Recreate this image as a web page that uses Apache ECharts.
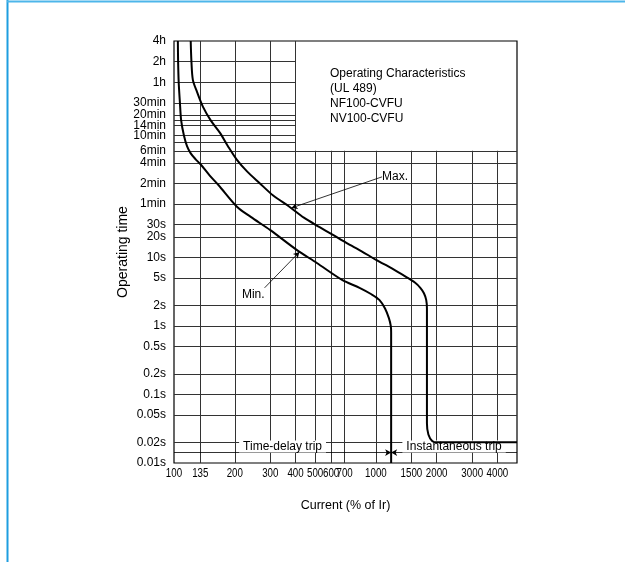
<!DOCTYPE html>
<html>
<head>
<meta charset="utf-8">
<script src="https://cdn.jsdelivr.net/npm/echarts@6/dist/echarts.min.js"></script>
<style>
html,body{margin:0;padding:0;background:#fff;}
#c{width:625px;height:562px;}
</style>
</head>
<body>
<div id="c"></div>
<script>
// ---- data ----
const xTickValues = [100,135,200,300,400,500,600,700,1000,1500,2000,3000,4000];
const xTickLabels = ['100','135','200','300','400','500','600','700','1000','1500','2000','3000','4000'];
const yTickValues = [14400,7200,3600,1800,1200,840,600,360,240,120,60,30,20,10,5,2,1,0.5,0.2,0.1,0.05,0.02,0.01];
const yTickLabels = ['4h','2h','1h','30min','20min','14min','10min','6min','4min','2min','1min','30s','20s','10s','5s','2s','1s','0.5s','0.2s','0.1s','0.05s','0.02s','0.01s'];

// grid lines
const vGridFull = [135,200,300,400];
const vGridLower = [500,600,700,1000,1500,2000,3000,4000];
const hGridUpper = [7200,3600,1800,1200,1000,840,600,480];
const hGridFull = [360,240,120,60,30,20,10,5,2,1,0.5,0.2,0.1,0.05,0.02];

// curves (current % of Ir, operating time in s)
const minCurrent = [104.5,104.8,105.5,107,108.5,112,116,121,128,136,150,166,205,240,300,405,510,680,830,950,1040,1110,1160,1185,1190,1190];
const minTime    = [14400,7200,3600,1800,1000,600,420,330,270,225,158,114,55,39,25,12.9,8.3,4.7,3.6,2.9,2.4,1.8,1.3,1.0,0.8,0.01];
const maxCurrent = [121,122,124,130,139,152,169,185,205,230,265,310,373,440,524,610,714,850,1003,1200,1410,1560,1660,1730,1775,1790,1790,1820,1900,2000,5000];
const maxTime    = [14400,7200,3900,2600,1585,1000,658,420,265,180,122,80,55,38,27.9,21.5,16.3,12.3,9.2,6.9,5.2,4.3,3.6,3.0,2.4,1.8,0.038,0.026,0.021,0.02,0.02];

// annotation anchors
const maxLeader = [[1073,150],[382,52.8]];
const minLeader = [[281,3.6],[418,12]];
const tripLineTime = 0.0142;
const tripBoundary = 1190;

const FONT = '"Liberation Sans", Arial, Helvetica, sans-serif';
const zip = (a,b) => a.map((v,i)=>[v,b[i]]);

function yLabel(v){
  let best=0, bd=1e9;
  for(let i=0;i<yTickValues.length;i++){
    const d=Math.abs(Math.log10(v)-Math.log10(yTickValues[i]));
    if(d<bd){bd=d;best=i;}
  }
  return bd<1e-3 ? yTickLabels[best] : '';
}

const gridLines = [];
vGridFull.forEach(v=>gridLines.push([{coord:[v,0.01]},{coord:[v,14400]}]));
vGridLower.forEach(v=>gridLines.push([{coord:[v,0.01]},{coord:[v,360]}]));
hGridUpper.forEach(t=>gridLines.push([{coord:[100,t]},{coord:[400,t]}]));
hGridFull.forEach(t=>gridLines.push([{coord:[100,t]},{coord:[5000,t]}]));

const chart = echarts.init(document.getElementById('c'), null, {renderer:'canvas'});
chart.setOption({
  animation:false,
  backgroundColor:'#fff',
  textStyle:{fontFamily:FONT},
  grid:{left:174,right:108,top:41,bottom:99,show:true,borderColor:'#000',borderWidth:1.2,backgroundColor:'transparent'},
  xAxis:{
    type:'log',logBase:10,min:100,max:5000,
    axisLine:{show:false},axisTick:{show:false},splitLine:{show:false},minorTick:{show:false},
    axisLabel:{show:false},
    name:'Current (% of Ir)',nameLocation:'middle',nameGap:36,nameMoveOverlap:false,
    nameTextStyle:{color:'#000',fontSize:12.5,fontFamily:FONT}
  },
  yAxis:{
    type:'log',logBase:10,min:0.01,max:14400,
    axisLine:{show:false},axisTick:{show:false},splitLine:{show:false},
    axisLabel:{customValues:yTickValues,showMinLabel:true,showMaxLabel:true,hideOverlap:false,
      formatter:yLabel,color:'#000',fontSize:12,margin:8,fontFamily:FONT,lineHeight:10},
    name:'Operating time',nameLocation:'middle',nameGap:44,nameRotate:90,nameMoveOverlap:false,
    nameTextStyle:{color:'#000',fontSize:14,fontFamily:FONT}
  },
  series:[
    {
      type:'line',data:[[100,0.01]],showSymbol:false,symbol:'none',lineStyle:{opacity:0},silent:true,z:1,
      markLine:{silent:true,symbol:'none',animation:false,
        lineStyle:{color:'#333',width:1,type:'solid'},label:{show:false},emphasis:{disabled:true},
        data:gridLines}
    },
    {
      name:'Min.',type:'line',data:zip(minCurrent,minTime),smooth:0.3,
      showSymbol:false,symbol:'none',lineStyle:{color:'#000',width:2},z:5,silent:true
    },
    {
      name:'Max.',type:'line',data:zip(maxCurrent,maxTime),smooth:0.3,
      showSymbol:false,symbol:'none',lineStyle:{color:'#000',width:2},z:5,silent:true
    },
    {
      type:'line',data:[[100,0.01]],showSymbol:false,symbol:'none',lineStyle:{opacity:0},silent:true,z:6,
      markLine:{silent:true,animation:false,symbol:['none','arrow'],symbolSize:[5,6],
        lineStyle:{color:'#000',width:0.8,type:'solid'},emphasis:{disabled:true},
        label:{show:false},
        data:[
          [{coord:maxLeader[0]},{coord:maxLeader[1]}],
          [{coord:minLeader[0]},{coord:minLeader[1]}],
          [{coord:[100,tripLineTime],symbol:'none'},{coord:[tripBoundary,tripLineTime],symbol:'arrow',
            label:{show:true,position:'middle',formatter:'Time-delay trip',color:'#000',fontSize:12,fontFamily:FONT,backgroundColor:'#fff',padding:[0,4],distance:0}}],
          [{coord:[tripBoundary,tripLineTime],symbol:'arrow'},{coord:[5000,tripLineTime],symbol:'none',
            label:{show:true,position:'middle',formatter:'Instantaneous trip',color:'#000',fontSize:12,fontFamily:FONT,backgroundColor:'#fff',padding:[0,4],distance:0}}]
        ]},
      markPoint:{silent:true,animation:false,symbol:'circle',symbolSize:0,
        data:[
          {coord:maxLeader[0],label:{show:true,position:'right',distance:0,formatter:'Max.',color:'#000',fontSize:12,fontFamily:FONT}},
          {coord:minLeader[0],label:{show:true,position:'left',distance:0,offset:[0,7],formatter:'Min.',color:'#000',fontSize:12,fontFamily:FONT}}
        ]}
    }
  ],
  graphic:[
    {type:'text',left:330,top:66,silent:true,style:{text:'Operating Characteristics\n(UL 489)\nNF100-CVFU\nNV100-CVFU',fill:'#000',fontSize:12,fontFamily:FONT,lineHeight:15}},
    {type:'line',silent:true,shape:{x1:7.5,y1:0,x2:7.5,y2:562},style:{stroke:'#1e9ee0',lineWidth:2}},
    {type:'line',silent:true,shape:{x1:7,y1:1.5,x2:625,y2:1.5},style:{stroke:'#4db6ea',lineWidth:2}}
  ]
});

// x tick labels (condensed), positioned through the x axis scale
const yBottom = chart.convertToPixel({yAxisIndex:0}, 0.01);
const xLabelGraphics = xTickValues.map((v,i)=>({
  id:'xl'+i, type:'text', silent:true,
  x: chart.convertToPixel({xAxisIndex:0}, v), y: yBottom + 11,
  scaleX: 0.78,
  style:{text:xTickLabels[i], fill:'#000', fontSize:12.5, fontFamily:FONT, align:'center', verticalAlign:'middle'}
}));
chart.setOption({graphic: xLabelGraphics});
</script>
</body>
</html>
